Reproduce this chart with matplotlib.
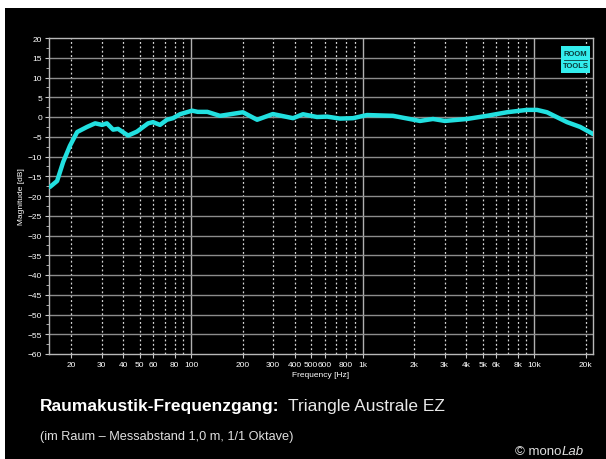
import matplotlib
matplotlib.use("Agg")
import matplotlib.pyplot as plt
from matplotlib.patches import Rectangle
from matplotlib.ticker import FixedLocator, NullFormatter, MultipleLocator

freq_hz = [15.0, 16.5, 17.9, 19.6, 21.6, 24.7, 27.5, 30.2, 32.2, 35.0, 37.4,
           42.8, 48.2, 56.0, 59.8, 65.7, 72.1, 78.2, 85.9, 101, 109, 124, 147,
           200, 242, 299, 392, 448, 541, 619, 736, 877, 1058, 1500, 2155, 2566,
           3013, 4047, 5296, 6925, 9060, 10370, 11860, 15520, 18490, 22000]
mag_db = [-17.7, -16.2, -11.4, -7.3, -3.8, -2.5, -1.6, -2.0, -1.6, -3.2, -3.0,
          -4.7, -3.7, -1.6, -1.3, -2.0, -0.7, -0.3, 0.7, 1.6, 1.3, 1.3, 0.3,
          1.2, -0.7, 0.75, -0.3, 0.7, 0.0, 0.1, -0.4, -0.3, 0.5, 0.3, -1.0, -0.5,
          -1.0, -0.5, 0.3, 1.2, 1.8, 1.8, 1.2, -1.3, -2.5, -4.3]

x_ticks = [20, 30, 40, 50, 60, 80, 100, 200, 300, 400, 500, 600, 800,
           1000, 2000, 3000, 4000, 5000, 6000, 8000, 10000, 20000]
x_labels = ["20", "30", "40", "50", "60", "80", "100", "200", "300", "400",
            "500", "600", "800", "1k", "2k", "3k", "4k", "5k", "6k", "8k",
            "10k", "20k"]
dotted_grid = [20, 30, 40, 50, 60, 70, 80, 90, 200, 300, 400, 500, 600, 700,
               800, 900, 2000, 3000, 4000, 5000, 6000, 7000, 8000, 9000, 20000]
solid_grid = [100, 1000, 10000]

W, H = 606, 460
plt.rcParams["font.family"] = ["Liberation Sans", "DejaVu Sans"]

fig = plt.figure(figsize=(W / 100, H / 100), dpi=100, facecolor="white")
# schwarzer Hintergrund mit weissem Rand oben/links
fig.patches.append(Rectangle((5 / W, 0), 1, 1 - 9 / H, transform=fig.transFigure,
                             facecolor="black", edgecolor="none", zorder=-10))

left, right, top, bottom = 49, 593, 39, 355
ax = fig.add_axes([left / W, 1 - bottom / H, (right - left) / W, (bottom - top) / H])
ax.set_facecolor("black")
ax.set_xscale("log")
ax.set_xlim(14.8, 22000)
ax.set_ylim(-60, 20)

for f in dotted_grid:
    ax.axvline(f, color="#d8d8d8", lw=0.9, ls=(0, (1.5, 2)), zorder=1)
for f in solid_grid:
    ax.axvline(f, color="#b0b0b0", lw=1.0, zorder=1)
for y in range(-55, 20, 5):
    ax.axhline(y, color="#8c8c8c", lw=1.0, zorder=1)

ax.plot(freq_hz, mag_db, color="#22e0e0", lw=3.2, solid_capstyle="round", zorder=3)

ax.xaxis.set_major_locator(FixedLocator(x_ticks))
ax.set_xticklabels(x_labels)
ax.xaxis.set_minor_formatter(NullFormatter())
ax.xaxis.set_minor_locator(FixedLocator([]))
ax.yaxis.set_major_locator(MultipleLocator(5))
ax.yaxis.set_minor_locator(MultipleLocator(2.5))
ax.tick_params(axis="both", colors="#c8c8c8", labelcolor="white", labelsize=6,
               length=3, width=0.8, pad=2)
ax.tick_params(axis="y", which="minor", colors="#c8c8c8", length=2)
for s in ax.spines.values():
    s.set_color("#b8b8b8")
    s.set_linewidth(1.0)

ax.set_xlabel("Frequency [Hz]", color="white", fontsize=6, labelpad=2)
ax.set_ylabel("Magnitude [dB]", color="white", fontsize=6, labelpad=2)

# ROOM TOOLS Logo
lx0, lx1, ly0, ly1 = 561, 590, 47, 74
fig.patches.append(Rectangle((lx0 / W, 1 - ly1 / H), (lx1 - lx0) / W, (ly1 - ly0) / H,
                             transform=fig.transFigure, facecolor="#33eded",
                             edgecolor="none", zorder=5))
fig.text((lx0 + lx1) / 2 / W, 1 - 54 / H, "ROOM", color="#0a3a3a", fontsize=5.5,
         fontweight="bold", ha="center", va="center", zorder=6)
fig.text((lx0 + lx1) / 2 / W, 1 - 66.5 / H, "TOOLS", color="#0a3a3a", fontsize=5.5,
         fontweight="bold", ha="center", va="center", zorder=6)
fig.lines.append(plt.Line2D([(lx0 + 3) / W, (lx1 - 3) / W], [1 - 60.5 / H, 1 - 60.5 / H],
                            transform=fig.transFigure, color="#0a3a3a", lw=0.6, zorder=6))

# Beschriftung unten
renderer = fig.canvas.get_renderer()
t1 = fig.text(40 / W, 1 - 407 / H, "Raumakustik-Frequenzgang:", color="white",
              fontsize=12.5, fontweight="bold", va="center")
x_end = t1.get_window_extent(renderer).x1
fig.text((x_end + 8) / W, 1 - 407 / H, "Triangle Australe EZ", color="#e8e8e8",
         fontsize=12.5, va="center")
fig.text(40 / W, 1 - 437 / H, "(im Raum \u2013 Messabstand 1,0 m, 1/1 Oktave)",
         color="#e0e0e0", fontsize=9.2, va="center")
t3 = fig.text(515 / W, 1 - 452 / H, "\u00a9 mono", color="#e0e0e0", fontsize=9.5,
              va="center")
x_end = t3.get_window_extent(renderer).x1
fig.text((x_end + 0.5) / W, 1 - 452 / H, "Lab", color="#e0e0e0", fontsize=9.5,
         style="italic", va="center")

fig.savefig("out.png", dpi=100, facecolor=fig.get_facecolor())
